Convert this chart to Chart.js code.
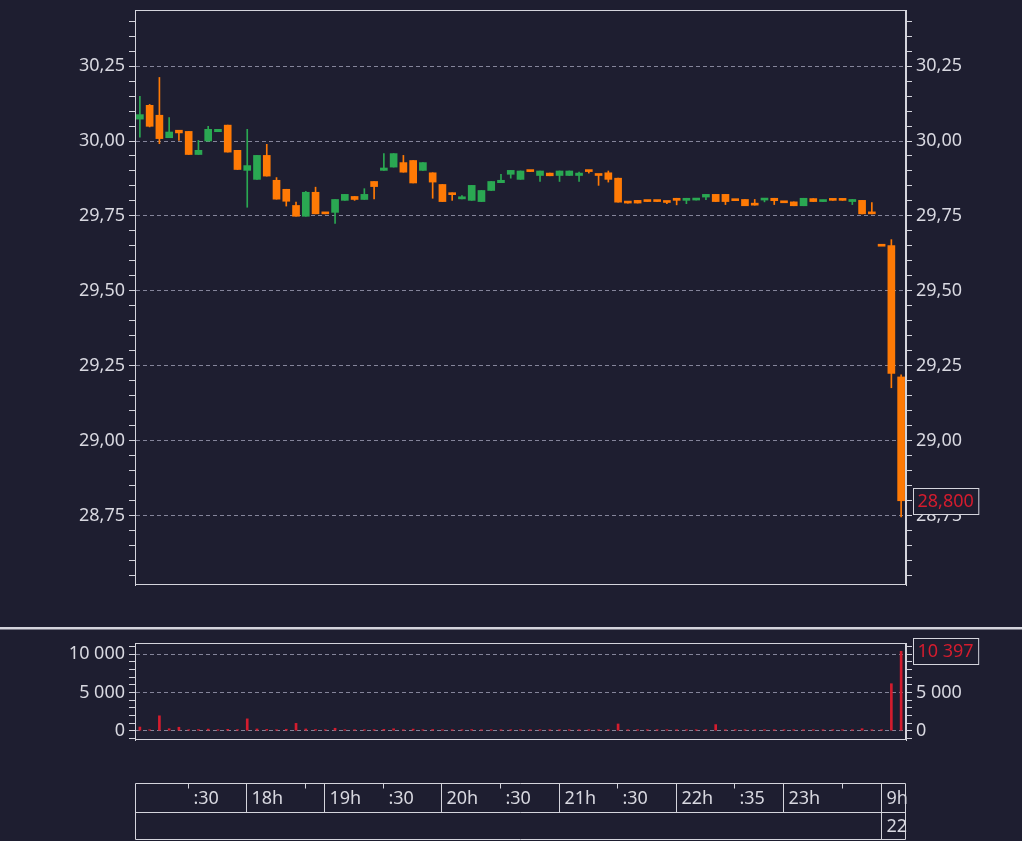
<!DOCTYPE html>
<html lang="fr">
<head>
<meta charset="utf-8">
<title>Cours intraday</title>
<script src="https://cdn.jsdelivr.net/npm/chart.js@4.4.0/dist/chart.umd.min.js"></script>
<style>
  html, body { margin: 0; padding: 0; background: #1e1e30; overflow: hidden; }
  #prix { position: absolute; left: 0; top: 0; }
  #volume { position: absolute; left: 0; top: 600px; }
</style>
</head>
<body>
<canvas id="prix" width="1022" height="600"></canvas>
<canvas id="volume" width="1022" height="241"></canvas>
<script>
// Bougies de 5 minutes (heure de début)
const heures = [
  '17:05', '17:10', '17:15', '17:20', '17:25', '17:30', '17:35', '17:40', '17:45', '17:50', '17:55',
  '18:00', '18:05', '18:10', '18:15', '18:20', '18:25', '18:30', '18:45',
  '19:00', '19:05', '19:10', '19:15', '19:20', '19:25', '19:30', '19:35', '19:40', '19:45', '19:50', '19:55',
  '20:00', '20:05', '20:10', '20:15', '20:20', '20:25', '20:30', '20:35', '20:40', '20:45', '20:50', '20:55',
  '21:00', '21:05', '21:10', '21:15', '21:20', '21:25', '21:30', '21:35', '21:40', '21:45', '21:50', '21:55',
  '22:00', '22:05', '22:10', '22:15', '22:20', '22:25', '22:35', '22:40', '22:45', '22:50', '22:55',
  '23:00', '23:05', '23:10', '23:15', '23:20', '23:25', '23:30', '23:35', '23:40', '23:45',
  '9:00', '9:05', '9:10'
];
const ouvertures = [
  30.073, 30.119, 30.086, 30.011, 30.036, 30.032, 29.955, 30.000, 30.031, 30.053, 29.969,
  29.902, 29.872, 29.952, 29.869, 29.839, 29.785, 29.749, 29.829,
  29.762, 29.762, 29.802, 29.815, 29.805, 29.865, 29.902, 29.913, 29.928, 29.935, 29.902, 29.894,
  29.855, 29.827, 29.807, 29.802, 29.798, 29.835, 29.861, 29.889, 29.872, 29.902, 29.885, 29.893,
  29.885, 29.885, 29.885, 29.902, 29.889, 29.894, 29.876, 29.799, 29.802, 29.802, 29.802, 29.799,
  29.809, 29.802, 29.803, 29.813, 29.822, 29.822, 29.805, 29.805, 29.791, 29.803, 29.809,
  29.798, 29.797, 29.784, 29.808, 29.798, 29.805, 29.805, 29.798, 29.802, 29.760,
  29.651, 29.651, 29.213
];
const plusHauts = [
  30.149, 30.122, 30.212, 30.078, 30.036, 30.032, 30.002, 30.049, 30.031, 30.053, 29.969,
  30.039, 29.952, 29.989, 29.878, 29.839, 29.796, 29.832, 29.846,
  29.762, 29.805, 29.822, 29.815, 29.841, 29.865, 29.958, 29.958, 29.952, 29.935, 29.928, 29.894,
  29.855, 29.827, 29.818, 29.852, 29.835, 29.865, 29.889, 29.902, 29.900, 29.902, 29.900, 29.893,
  29.900, 29.900, 29.896, 29.902, 29.889, 29.900, 29.876, 29.799, 29.802, 29.802, 29.802, 29.799,
  29.809, 29.809, 29.808, 29.822, 29.822, 29.822, 29.805, 29.805, 29.805, 29.808, 29.809,
  29.798, 29.797, 29.809, 29.808, 29.803, 29.805, 29.805, 29.805, 29.802, 29.795,
  29.651, 29.671, 29.220
];
const plusBas = [
  30.013, 30.047, 29.991, 30.011, 30.002, 29.955, 29.955, 30.000, 30.031, 29.963, 29.905,
  29.779, 29.872, 29.883, 29.806, 29.783, 29.749, 29.749, 29.757,
  29.757, 29.725, 29.802, 29.802, 29.805, 29.807, 29.902, 29.913, 29.896, 29.860, 29.902, 29.809,
  29.798, 29.802, 29.807, 29.802, 29.798, 29.835, 29.861, 29.876, 29.872, 29.898, 29.865, 29.884,
  29.865, 29.885, 29.865, 29.893, 29.852, 29.863, 29.796, 29.793, 29.793, 29.798, 29.798, 29.791,
  29.787, 29.791, 29.803, 29.804, 29.798, 29.788, 29.801, 29.784, 29.786, 29.797, 29.788,
  29.794, 29.784, 29.784, 29.798, 29.798, 29.802, 29.802, 29.788, 29.757, 29.757,
  29.651, 29.177, 28.746
];
const clotures = [
  30.088, 30.049, 30.008, 30.030, 30.027, 29.955, 29.969, 30.039, 30.039, 29.963, 29.905,
  29.918, 29.952, 29.883, 29.806, 29.799, 29.749, 29.829, 29.757,
  29.757, 29.805, 29.822, 29.805, 29.822, 29.848, 29.910, 29.958, 29.896, 29.860, 29.928, 29.863,
  29.798, 29.821, 29.814, 29.852, 29.835, 29.865, 29.869, 29.902, 29.900, 29.898, 29.900, 29.884,
  29.900, 29.900, 29.893, 29.898, 29.885, 29.872, 29.796, 29.793, 29.793, 29.798, 29.798, 29.795,
  29.802, 29.809, 29.808, 29.822, 29.798, 29.798, 29.801, 29.784, 29.786, 29.808, 29.801,
  29.794, 29.784, 29.809, 29.798, 29.803, 29.802, 29.802, 29.805, 29.757, 29.757,
  29.649, 29.225, 28.800
];
const volumes = [
  480, 120, 1950, 260, 450, 90, 150, 210, 60, 180, 140,
  1550, 230, 170, 110, 190, 960, 230, 150,
  40, 320, 90, 60, 110, 140, 180, 250, 130, 210, 90, 160,
  120, 50, 40, 150, 110, 90, 70, 80, 100, 30, 60, 40,
  50, 60, 40, 30, 70, 90, 880, 40, 50, 30, 30, 40,
  60, 50, 30, 90, 800, 110, 30, 70, 40, 30, 60,
  20, 50, 90, 40, 20, 30, 30, 60, 260, 120,
  80, 6150, 10397
];
// Repères de l'axe du temps
const reperesHeures = ['17:30', '18:00', '18:30', '19:00', '19:30', '20:00', '20:30', '21:00', '21:30', '22:00', '22:35', '23:00', '23:30', '9:00'];
const reperesTextes = [':30', '18h', '', '19h', ':30', '20h', ':30', '21h', ':30', '22h', ':35', '23h', '', '9h'];
const debutJour = '9:00';
const texteJour = '22';

const FOND = '#1e1e30';
const AXE = '#d4d4dc';
const TEXTE = '#d8d8e0';
const GRILLE = '#85859a';
const VERT = '#2aa852';
const ORANGE = '#ff7a05';
const ROUGE = '#d41c2e';
const POLICE = { family: "'Noto Sans', sans-serif", size: 18 };
const POLICE_CTX = "18px 'Noto Sans', sans-serif";

const couleur = (i) => (clotures[i] > ouvertures[i] ? VERT : ORANGE);
const estPrixMajeur = (v) => Math.abs(v * 4 - Math.round(v * 4)) < 1e-6;
const formatPrix = (v) => v.toFixed(2).replace('.', ',');
const estVolMajeur = (v) => Math.abs(v / 5000 - Math.round(v / 5000)) < 1e-6;
const formatVol = (v) => String(Math.round(v)).replace(/\B(?=(\d{3})+(?!\d))/g, ' ');

// Axe vertical (gauche ou droite) avec petites graduations
function axeVertical(position, min, max, pas, estMajeur, format, largeur, grille) {
  return {
    type: 'linear',
    position: position,
    min: min,
    max: max,
    afterBuildTicks: (s) => {
      const t = [];
      for (let k = Math.ceil(min / pas - 1e-9); k * pas <= max; k++) {
        t.push({ value: Math.round(k * pas * 1000) / 1000 });
      }
      s.ticks = t;
    },
    afterFit: (s) => {
      s.width = largeur;
      s.paddingTop = 0;
      s.paddingBottom = 0;
    },
    ticks: {
      autoSkip: false,
      color: TEXTE,
      font: POLICE,
      padding: 4,
      callback: (v) => (estMajeur(v) ? format(v) : '')
    },
    grid: {
      drawOnChartArea: grille,
      color: (c) => (c.tick && estMajeur(c.tick.value) ? GRILLE : 'transparent'),
      lineWidth: 1,
      tickColor: AXE,
      tickLength: 6,
      tickWidth: 1
    },
    border: { display: true, color: AXE, width: 1, dash: [4, 3] }
  };
}

// Cadre autour de la zone de tracé
const cadre = {
  id: 'cadre',
  afterDraw(chart) {
    const { ctx, chartArea: a } = chart;
    ctx.save();
    ctx.strokeStyle = AXE;
    ctx.lineWidth = 1;
    ctx.strokeRect(Math.round(a.left) + 0.5, Math.round(a.top) + 0.5, Math.round(a.right - a.left) - 1, Math.round(a.bottom - a.top) - 1);
    ctx.restore();
  }
};

// Étiquette rouge de la dernière valeur sur l'axe de droite
function etiquetteDerniere(id, valeur, texte) {
  return {
    id: id,
    afterDraw(chart) {
      const { ctx } = chart;
      const y = Math.round(chart.scales.y.getPixelForValue(valeur));
      const x = chart.chartArea.right + 7;
      ctx.save();
      ctx.font = POLICE_CTX;
      const l = ctx.measureText(texte).width + 9;
      ctx.fillStyle = FOND;
      ctx.fillRect(x, y - 13, l, 27);
      ctx.strokeStyle = AXE;
      ctx.lineWidth = 1;
      ctx.strokeRect(x + 0.5, y - 12.5, l, 26);
      ctx.fillStyle = ROUGE;
      ctx.textBaseline = 'middle';
      ctx.fillText(texte, x + 4.5, y + 1);
      ctx.restore();
    }
  };
}

const dernier = clotures.length - 1;

new Chart(document.getElementById('prix'), {
  type: 'bar',
  data: {
    labels: heures,
    datasets: [
      {
        data: ouvertures.map((o, i) => [o, clotures[i]]),
        backgroundColor: (c) => couleur(c.dataIndex),
        barThickness: 7,
        minBarLength: 2,
        grouped: false,
        yAxisID: 'y'
      },
      {
        data: plusBas.map((b, i) => [b, plusHauts[i]]),
        backgroundColor: (c) => couleur(c.dataIndex),
        barThickness: 1,
        grouped: false,
        yAxisID: 'y'
      }
    ]
  },
  options: {
    responsive: false,
    animation: false,
    layout: { padding: { top: 10, bottom: 15, left: 0, right: 0 } },
    plugins: { legend: { display: false }, tooltip: { enabled: false } },
    scales: {
      x: { type: 'category', display: false, offset: true },
      y: axeVertical('left', 28.519, 30.437, 0.05, estPrixMajeur, formatPrix, 135, true),
      y2: axeVertical('right', 28.519, 30.437, 0.05, estPrixMajeur, formatPrix, 116, false)
    }
  },
  plugins: [cadre, etiquetteDerniere('dernierPrix', clotures[dernier], clotures[dernier].toFixed(3).replace('.', ','))]
});

// Séparateur et axe du temps sous le volume
const axeTemps = {
  id: 'axeTemps',
  afterDraw(chart) {
    const { ctx, chartArea: a } = chart;
    const x = chart.scales.x;
    const haut = 183.5, milieu = 212.5, bas = 239.5;
    const g = Math.round(a.left) + 0.5, d = Math.round(a.right) - 0.5;
    ctx.save();
    ctx.fillStyle = AXE;
    ctx.fillRect(0, 27, chart.width, 2.5);
    ctx.strokeStyle = AXE;
    ctx.lineWidth = 1;
    ctx.beginPath();
    ctx.moveTo(g, haut); ctx.lineTo(d, haut);
    ctx.moveTo(g, milieu); ctx.lineTo(d, milieu);
    ctx.moveTo(g, bas); ctx.lineTo(d, bas);
    ctx.moveTo(g, haut); ctx.lineTo(g, bas);
    ctx.moveTo(d, haut); ctx.lineTo(d, bas);
    ctx.stroke();
    ctx.font = POLICE_CTX;
    ctx.fillStyle = TEXTE;
    ctx.textBaseline = 'middle';
    reperesHeures.forEach((h, k) => {
      const px = Math.round(x.getPixelForValue(heures.indexOf(h))) - 0.5;
      const heurePleine = h.endsWith(':00');
      ctx.beginPath();
      ctx.moveTo(px, haut);
      ctx.lineTo(px, h === debutJour ? bas : heurePleine ? milieu : haut + 5);
      ctx.stroke();
      if (reperesTextes[k]) ctx.fillText(reperesTextes[k], px + 5, (haut + milieu) / 2 + 1);
      if (h === debutJour) ctx.fillText(texteJour, px + 5, (milieu + bas) / 2 + 1);
    });
    ctx.restore();
  }
};

new Chart(document.getElementById('volume'), {
  type: 'bar',
  data: {
    labels: heures,
    datasets: [
      {
        data: volumes,
        backgroundColor: ROUGE,
        barThickness: 2,
        minBarLength: 1,
        yAxisID: 'y'
      }
    ]
  },
  options: {
    responsive: false,
    animation: false,
    layout: { padding: { top: 43, bottom: 101, left: 0, right: 0 } },
    plugins: { legend: { display: false }, tooltip: { enabled: false } },
    scales: {
      x: { type: 'category', display: false, offset: true },
      y: axeVertical('left', -1217, 11479, 1000, estVolMajeur, formatVol, 135, true),
      y2: axeVertical('right', -1217, 11479, 1000, estVolMajeur, formatVol, 116, false)
    }
  },
  plugins: [cadre, axeTemps, etiquetteDerniere('dernierVolume', volumes[dernier], formatVol(volumes[dernier]))]
});
</script>
</body>
</html>
